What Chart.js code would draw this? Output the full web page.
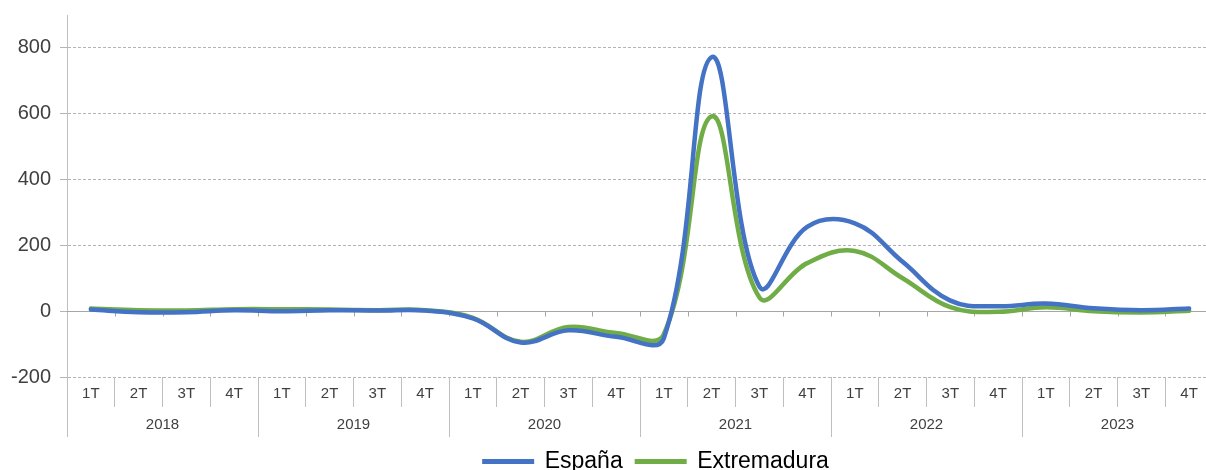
<!DOCTYPE html>
<html lang="es">
<head>
<meta charset="utf-8">
<title>España / Extremadura</title>
<script src="https://cdn.jsdelivr.net/npm/chart.js@4/dist/chart.umd.min.js"></script>
<style>
  html, body { margin: 0; padding: 0; background: #fff; overflow: hidden; }
  #wrap { width: 1213px; height: 470px; position: relative; }
</style>
</head>
<body>
<div id="wrap"><canvas id="chart"></canvas></div>
<script>
const years = ['2018', '2019', '2020', '2021', '2022', '2023'];
const quarters = ['1T', '2T', '3T', '4T'];
const yTicks = [-200, 0, 200, 400, 600, 800];

const espana = [5, -3, -3, 3, 0, 3, 2, 2, -22, -95, -58, -78, -82, 772, 75, 256, 267, 150, 32, 15, 23, 9, 3, 8];
const extremadura = [8, 3, 2, 6, 6, 5, 3, 3, -20, -93, -48, -66, -70, 592, 42, 146, 183, 100, 12, -2, 12, 0, -4, 1];

const labels = years.flatMap(() => quarters);

const axisGray = '#bfbfbf';
const textColor = '#404040';

// solid zero line with small ticks at each quarter boundary
const zeroLine = {
  id: 'zeroLine',
  afterLayout(chart) {
    // nudge the legend a little to the right
    if (chart.legend) {
      chart.legend.left += 16;
      chart.legend.right += 16;
    }
  },
  beforeDatasetsDraw(chart) {
    const { ctx, chartArea, scales } = chart;
    const y0 = Math.round(scales.y.getPixelForValue(0)) + 0.5;
    ctx.save();
    ctx.strokeStyle = '#a6a6a6';
    ctx.lineWidth = 1;
    ctx.beginPath();
    ctx.moveTo(chartArea.left, y0);
    ctx.lineTo(chartArea.right, y0);
    for (let i = 1; i < labels.length; i++) {
      const x = Math.round((scales.x.getPixelForValue(i - 1) + scales.x.getPixelForValue(i)) / 2) + 0.5;
      ctx.moveTo(x, y0);
      ctx.lineTo(x, y0 + 5);
    }
    ctx.stroke();
    ctx.restore();
  }
};

new Chart(document.getElementById('chart'), {
  type: 'line',
  data: {
    labels,
    datasets: [
      {
        label: 'España',
        data: espana,
        borderColor: '#4472c4',
        backgroundColor: '#4472c4',
        borderWidth: 4.5,
        borderCapStyle: 'round',
        pointRadius: 0,
        tension: 0.4
      },
      {
        label: 'Extremadura',
        data: extremadura,
        borderColor: '#70ad47',
        backgroundColor: '#70ad47',
        borderWidth: 4.5,
        borderCapStyle: 'round',
        pointRadius: 0,
        tension: 0.4
      }
    ]
  },
  options: {
    responsive: true,
    maintainAspectRatio: false,
    animation: false,
    layout: { padding: { top: 15, right: 0, left: 0, bottom: -13 } },
    plugins: {
      tooltip: { enabled: false },
      legend: {
        position: 'bottom',
        fullSize: false,
        labels: {
          color: '#000',
          font: { family: 'Liberation Sans, Arial, sans-serif', size: 23 },
          boxWidth: 50,
          boxHeight: 3,
          padding: 13,
          generateLabels(chart) {
            return chart.data.datasets.map((ds, i) => ({
              text: ds.label,
              fillStyle: ds.borderColor,
              strokeStyle: ds.borderColor,
              lineWidth: 2,
              lineCap: 'round',
              fontColor: '#000',
              datasetIndex: i
            }));
          }
        }
      }
    },
    scales: {
      y: {
        min: -200,
        max: 900,
        afterBuildTicks(scale) {
          scale.ticks = yTicks.map(v => ({ value: v }));
        },
        afterFit(scale) {
          scale.width = 67;
          scale.paddingTop = 0;
          scale.paddingBottom = 0;
        },
        ticks: {
          color: textColor,
          padding: 9,
          font: { family: 'Liberation Sans, Arial, sans-serif', size: 20 }
        },
        grid: { color: '#b3b3b3', tickLength: 7, tickColor: '#b3b3b3' },
        border: { display: true, color: axisGray, dash: [3, 2] }
      },
      x: {
        offset: true,
        weight: 0,
        afterFit(scale) { scale.height = 30; },
        ticks: {
          color: textColor,
          padding: -22,
          maxRotation: 0,
          autoSkip: false,
          font: { family: 'Liberation Sans, Arial, sans-serif', size: 15 }
        },
        grid: { offset: true, drawOnChartArea: false, tickLength: 30, color: axisGray },
        border: { display: false }
      },
      years: {
        type: 'category',
        labels: years,
        position: 'bottom',
        offset: true,
        weight: 1,
        afterFit(scale) { scale.height = 30; },
        ticks: {
          color: textColor,
          padding: -21,
          maxRotation: 0,
          font: { family: 'Liberation Sans, Arial, sans-serif', size: 15 }
        },
        grid: { offset: true, drawOnChartArea: false, tickLength: 30, color: axisGray },
        border: { display: false }
      }
    }
  },
  plugins: [zeroLine]
});
</script>
</body>
</html>
